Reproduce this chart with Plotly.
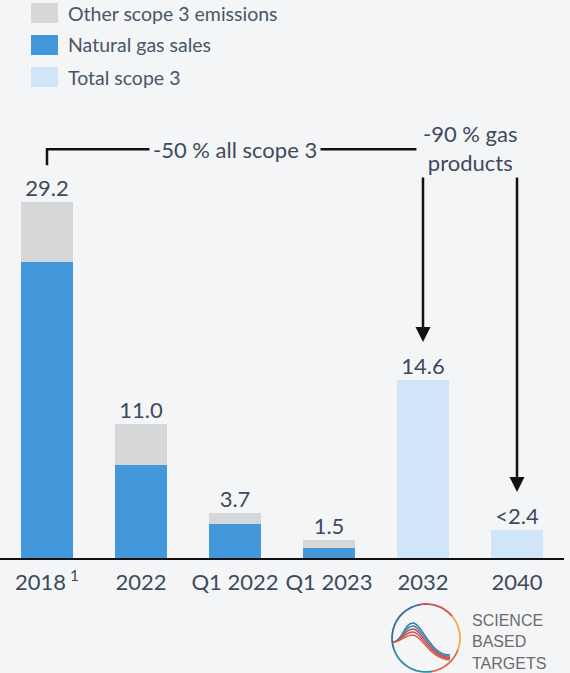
import math
import plotly.graph_objects as go

# Datos (MtCO2e)
categorias = ["2018<sup> 1</sup>", "2022", "Q1 2022", "Q1 2023", "2032", "2040"]
gas_natural = [24.3, 7.6, 2.8, 0.8, None, None]
otros_scope3 = [4.9, 3.4, 0.9, 0.7, None, None]
total_scope3 = [None, None, None, None, 14.6, 2.3]
etiquetas = ["29.2", "11.0", "3.7", "1.5", "14.6", "<2.4"]
altura_etiqueta = [29.2, 11.0, 3.7, 1.5, 14.6, 2.3]
nombres = ["Other scope 3 emissions", "Natural gas sales", "Total scope 3"]

FONDO = "#F4F5F7"
TEXTO = "#3E4A5B"
GRIS = "#D6D7D9"
AZUL = "#4298DB"
CELESTE = "#D0E5F8"
FUENTE = "Lato, sans-serif"

W, H = 570, 673
M_L, M_R, M_T, M_B = 0, 6, 120, 115
PW, PH = W - M_L - M_R, H - M_T - M_B


def px(x, y):
    """pixeles -> coordenadas paper"""
    return (x - M_L) / PW, (H - M_B - y) / PH


def fmt(p):
    x, y = px(*p)
    return f"{x:.4f},{y:.4f}"


fig = go.Figure()
fig.add_trace(go.Bar(x=categorias, y=gas_natural, name=nombres[1],
                     marker=dict(color=AZUL, line=dict(width=0)), showlegend=False))
fig.add_trace(go.Bar(x=categorias, y=otros_scope3, name=nombres[0],
                     marker=dict(color=GRIS, line=dict(width=0)), showlegend=False))
fig.add_trace(go.Bar(x=categorias, y=total_scope3, name=nombres[2],
                     marker=dict(color=CELESTE, line=dict(width=0)), showlegend=False))
fig.add_trace(go.Scatter(x=categorias, y=altura_etiqueta, mode="text", text=etiquetas,
                         textposition="top center", textfont=dict(size=22, color=TEXTO),
                         showlegend=False, hoverinfo="skip", cliponaxis=False))

shapes = []
annotations = []

# Leyenda manual
for i, (nombre, color) in enumerate(zip(nombres, [GRIS, AZUL, CELESTE])):
    yc = 13 + 32 * i
    x0, y0 = px(31, yc - 10)
    x1, y1 = px(58, yc + 10)
    shapes.append(dict(type="rect", xref="paper", yref="paper", x0=x0, x1=x1, y0=y0, y1=y1,
                       fillcolor=color, line=dict(width=0)))
    tx, ty = px(66, yc)
    annotations.append(dict(xref="paper", yref="paper", x=tx, y=ty, text=nombre, showarrow=False,
                            xanchor="left", yanchor="middle", font=dict(size=19.5, color="#4A5565")))

# Corchete -50 %
shapes.append(dict(type="path", xref="x", yref="y",
                   path="M 0,32.2 L 0,33.5 L 3.93,33.5",
                   line=dict(color="#111111", width=2.5)))
annotations.append(dict(x=2, y=33.5, xref="x", yref="y", text="-50 % all scope 3",
                        showarrow=False, bgcolor=FONDO, borderpad=3,
                        font=dict(size=22, color=TEXTO)))
annotations.append(dict(x=4.5, y=33.6, xref="x", yref="y", text="-90 % gas<br>products",
                        showarrow=False, bgcolor=FONDO, borderpad=0,
                        font=dict(size=22, color=TEXTO)))
# Flechas -90 %
for xf, yf in [(4, 17.7), (5, 5.4)]:
    annotations.append(dict(x=xf, y=yf, ax=xf, ay=31.3, xref="x", yref="y", axref="x", ayref="y",
                            text="", showarrow=True, arrowhead=2, arrowsize=1.2,
                            arrowwidth=2.5, arrowcolor="#111111", standoff=0))

# Logo SBT aproximado
cx, cy, r = 426, 638, 34
arcos = [(100, 200, "#3A6A9A"), (200, 280, "#2E8FA6"), (280, 340, "#E06A4A"),
         (340, 400, "#F0B040"), (40, 100, "#D0504E")]
for a0, a1, col in arcos:
    pts = [(cx + r * math.cos(math.radians(a0 + (a1 - a0) * k / 12)),
            cy - r * math.sin(math.radians(a0 + (a1 - a0) * k / 12))) for k in range(13)]
    shapes.append(dict(type="path", xref="paper", yref="paper",
                       path="M " + " L ".join(fmt(p) for p in pts),
                       line=dict(color=col, width=1.8)))
for j, col in enumerate(["#2E7FA6", "#4A7FA8", "#B0505E", "#D0504E", "#D9603F"]):
    yp = 623 + 3 * j
    ye = 655 + 1.2 * j
    path = (f"M {fmt((393, 642))} C {fmt((402, 642))} {fmt((404, yp))} {fmt((413, yp))} "
            f"C {fmt((422, yp))} {fmt((430, ye))} {fmt((450, ye))}")
    shapes.append(dict(type="path", xref="paper", yref="paper", path=path,
                       line=dict(color=col, width=1.3)))
for k, palabra in enumerate(["SCIENCE", "BASED", "TARGETS"]):
    tx, ty = px(470, 620 + 21.5 * k)
    annotations.append(dict(xref="paper", yref="paper", x=tx, y=ty, text=palabra, showarrow=False,
                            xanchor="left", yanchor="middle",
                            font=dict(size=16, color="#6B6B6B", family="Liberation Sans, Arial")))

fig.update_layout(
    barmode="stack",
    bargap=0.44,
    width=W, height=H,
    margin=dict(l=M_L, r=M_R, t=M_T, b=M_B),
    paper_bgcolor=FONDO,
    plot_bgcolor=FONDO,
    font=dict(family=FUENTE, color=TEXTO, size=22),
    shapes=shapes,
    annotations=annotations,
    showlegend=False,
)
fig.update_xaxes(showline=True, linecolor="#111111", linewidth=2, showgrid=False,
                 ticks="", tickfont=dict(size=22, color=TEXTO), ticklabelstandoff=4)
fig.update_yaxes(range=[0, 35.9], visible=False, showgrid=False, zeroline=False)

fig.write_html("out.html", config={"displayModeBar": False},
               post_script="document.body.style.margin='0';document.body.style.overflow='hidden';")
